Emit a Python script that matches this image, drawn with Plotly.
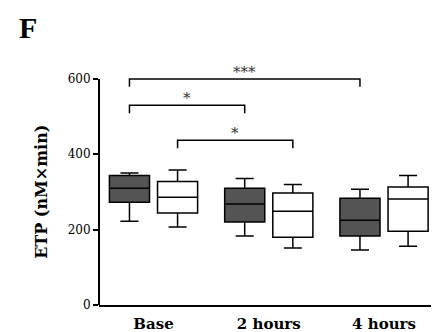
import plotly.graph_objects as go

categories = ["Base", "2 hours", "4 hours"]
# group A (dark fill)
a_low = [222, 183, 146]
a_q1 = [273, 220, 183]
a_med = [310, 268, 225]
a_q3 = [344, 310, 283]
a_high = [350, 336, 307]
# group B (white fill)
b_low = [207, 151, 156]
b_q1 = [244, 180, 196]
b_med = [286, 249, 281]
b_q3 = [328, 297, 313]
b_high = [358, 320, 344]

# significance brackets: (group idx1, trace1, group idx2, trace2, y level, label)
brackets = [
    (0, 0, 2, 0, 600, "***"),
    (0, 0, 1, 0, 530, "*"),
    (0, 1, 1, 1, 437, "*"),
]
y_ticks = [0, 200, 400, 600]
y_title = "ETP (nM×min)"

BOXGAP = 0.165
GROUPGAP = 0.167
slot = (1 - BOXGAP) / 2
offsets = [-slot / 2, slot / 2]

serif = "DejaVu Serif, serif"
times = "Liberation Serif, Times New Roman, serif"

fig = go.Figure()
fig.add_trace(go.Box(
    x=categories, q1=a_q1, median=a_med, q3=a_q3,
    lowerfence=a_low, upperfence=a_high,
    fillcolor="#545454", line=dict(color="black", width=1.5),
    whiskerwidth=0.45, boxpoints=False, name="A", showlegend=False,
))
fig.add_trace(go.Box(
    x=categories, q1=b_q1, median=b_med, q3=b_q3,
    lowerfence=b_low, upperfence=b_high,
    fillcolor="white", line=dict(color="black", width=1.5),
    whiskerwidth=0.45, boxpoints=False, name="B", showlegend=False,
))

tick = 21
for g1, t1, g2, t2, yv, lab in brackets:
    x1 = g1 + offsets[t1]
    x2 = g2 + offsets[t2]
    fig.add_shape(type="path",
                  path=f"M {x1},{yv - tick} L {x1},{yv} L {x2},{yv} L {x2},{yv - tick}",
                  xref="x", yref="y", line=dict(color="black", width=1.5))
    fig.add_annotation(x=(x1 + x2) / 2, y=yv, text=lab, showarrow=False,
                       xref="x", yref="y", yanchor="bottom", yshift=-4,
                       font=dict(family=serif, size=15, color="#333333"))

# y axis spine from 0 to top tick
fig.add_shape(type="line", xref="x domain", yref="y", x0=0, x1=0,
              y0=y_ticks[0], y1=y_ticks[-1], line=dict(color="black", width=2))

# y axis title centred on the drawn spine
fig.add_annotation(text=f"<b>{y_title}</b>", xref="paper", yref="y",
                   x=-0.168, y=(y_ticks[0] + y_ticks[-1]) / 2, textangle=-90,
                   xanchor="center", yanchor="middle", showarrow=False,
                   font=dict(family=serif, size=16, color="black"))

fig.add_annotation(text="<b>F</b>", xref="paper", yref="paper", x=-0.209, y=1.069,
                   xanchor="center", yanchor="middle", showarrow=False,
                   font=dict(family=times, size=30, color="black"))

fig.update_layout(
    width=431, height=324,
    margin=dict(l=91, r=0, t=37, b=27),
    paper_bgcolor="white", plot_bgcolor="white",
    boxmode="group", boxgap=BOXGAP, boxgroupgap=GROUPGAP,
    font=dict(family=serif, color="black"),
    xaxis=dict(
        type="category", range=[-0.473, 2.477], showline=True, linecolor="black",
        linewidth=2, ticks="outside", ticklen=4, tickcolor="rgba(0,0,0,0)",
        tickfont=dict(family=serif, size=15, color="black"), showgrid=False,
        tickprefix="<b>", ticksuffix="</b>",
    ),
    yaxis=dict(
        range=[0, 690], tickvals=y_ticks, showline=False, showgrid=False, zeroline=False,
        ticks="outside", ticklen=5, tickwidth=1.5, tickcolor="black",
        tickfont=dict(family=serif, size=12, color="black"),
        tickprefix="<b>", ticksuffix="</b>",
    ),
)

fig.write_html("out.html")
